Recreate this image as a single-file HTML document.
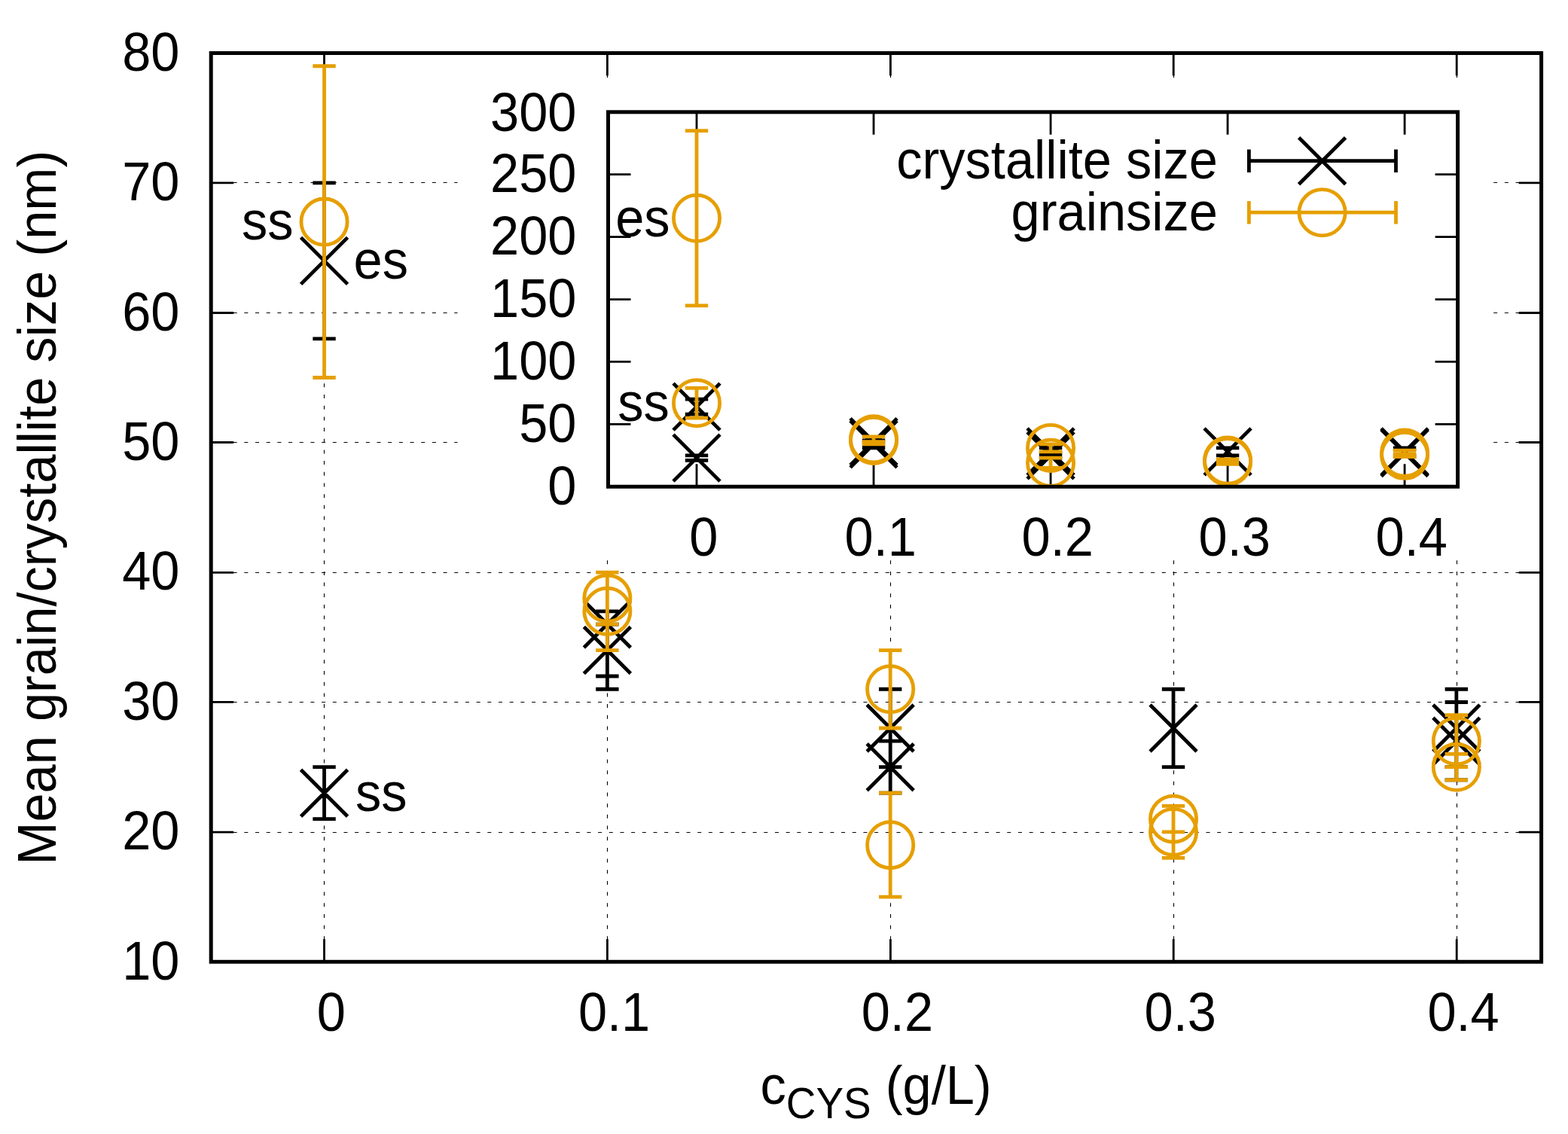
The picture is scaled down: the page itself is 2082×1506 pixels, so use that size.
<!DOCTYPE html>
<html><head><meta charset="utf-8"><title>Mean grain/crystallite size vs c_CYS</title>
<style>html,body{margin:0;padding:0;background:#fff;}svg{display:block;}text{font-family:"Liberation Sans",Arial,Helvetica,sans-serif;font-size:70px;fill:#000;}</style>
</head><body>
<svg width="2082" height="1506" viewBox="0 0 2082 1506">
<rect width="2082" height="1506" fill="#fff"/>
<path d="M280.3 242.5H2046.6M280.3 415.5H2046.6M280.3 587.5H2046.6M280.3 760.5H2046.6M280.3 932.5H2046.6M280.3 1105.5H2046.6" stroke="#000" stroke-width="1.1" stroke-dasharray="5.0 9.68" fill="none"/>
<path d="M430.5 1277.7V70.5M806.5 1277.7V70.5M1182.5 1277.7V70.5M1558.5 1277.7V70.5M1934.5 1277.7V70.5" stroke="#000" stroke-width="1.1" stroke-dasharray="5.0 9.68" fill="none"/>
<path d="M280.2 242.8h30M2046.6 242.8h-30M280.2 415.5h30M2046.6 415.5h-30M280.2 587.5h30M2046.6 587.5h-30M280.2 760.3h30M2046.6 760.3h-30M280.2 932.4h30M2046.6 932.4h-30M280.2 1105.1h30M2046.6 1105.1h-30M430.5 1277.3v-30M430.5 70.5v30M806.4 1277.3v-30M806.4 70.5v30M1182.4 1277.3v-30M1182.4 70.5v30M1558.2 1277.3v-30M1558.2 70.5v30M1934.2 1277.3v-30M1934.2 70.5v30" stroke="#000" stroke-width="2.8" fill="none"/>
<path d="M430.53 449.78V242.9M415.33 449.78H445.73M415.33 242.9H445.73M399.53 315.34L461.53 377.34M399.53 377.34L461.53 315.34M430.53 1087.66V1018.7M415.33 1087.66H445.73M415.33 1018.7H445.73M399.53 1022.18L461.53 1084.18M399.53 1084.18L461.53 1022.18M806.36 898.02V811.82M791.16 898.02H821.56M791.16 811.82H821.56M775.36 798.06L837.36 860.06M775.36 860.06L837.36 798.06M806.36 915.26V829.06M791.16 915.26H821.56M791.16 829.06H821.56M775.36 832.54L837.36 894.54M775.36 894.54L837.36 832.54M1182.19 1018.7V915.26M1166.99 1018.7H1197.39M1166.99 915.26H1197.39M1151.19 935.98L1213.19 997.98M1151.19 997.98L1213.19 935.98M1182.19 1053.18V984.22M1166.99 1053.18H1197.39M1166.99 984.22H1197.39M1151.19 987.7L1213.19 1049.7M1151.19 1049.7L1213.19 987.7M1558.02 1018.7V915.26M1542.82 1018.7H1573.22M1542.82 915.26H1573.22M1527.02 935.98L1589.02 997.98M1527.02 997.98L1589.02 935.98M1933.85 1018.7V915.26M1918.65 1018.7H1949.05M1918.65 915.26H1949.05M1902.85 935.98L1964.85 997.98M1902.85 997.98L1964.85 935.98M1933.85 1035.94V932.5M1918.65 1035.94H1949.05M1918.65 932.5H1949.05M1902.85 953.22L1964.85 1015.22M1902.85 1015.22L1964.85 953.22" stroke="#000" stroke-width="4.8" fill="none"/>
<path d="M430.53 501.5V87.74M415.33 501.5H445.73M415.33 87.74H445.73M806.36 829.06V760.1M791.16 829.06H821.56M791.16 760.1H821.56M806.36 863.54V760.1M791.16 863.54H821.56M791.16 760.1H821.56M1182.19 966.98V863.54M1166.99 966.98H1197.39M1166.99 863.54H1197.39M1182.19 1191.1V1053.18M1166.99 1191.1H1197.39M1166.99 1053.18H1197.39M1558.02 1104.9V1070.42M1542.82 1104.9H1573.22M1542.82 1070.42H1573.22M1558.02 1139.38V1070.42M1542.82 1139.38H1573.22M1542.82 1070.42H1573.22M1933.85 1018.7V949.74M1918.65 1018.7H1949.05M1918.65 949.74H1949.05M1933.85 1035.94V1001.46M1918.65 1035.94H1949.05M1918.65 1001.46H1949.05" stroke="#E69F00" stroke-width="4.8" fill="none"/>
<g stroke="#E69F00" stroke-width="4.8" fill="none"><circle cx="430.53" cy="294.62" r="30.6"/><circle cx="806.36" cy="794.58" r="30.6"/><circle cx="806.36" cy="811.82" r="30.6"/><circle cx="1182.19" cy="915.26" r="30.6"/><circle cx="1182.19" cy="1122.14" r="30.6"/><circle cx="1558.02" cy="1087.66" r="30.6"/><circle cx="1558.02" cy="1104.9" r="30.6"/><circle cx="1933.85" cy="984.22" r="30.6"/><circle cx="1933.85" cy="1018.7" r="30.6"/></g>
<rect x="280.2" y="70.5" width="1766.4" height="1206.8" stroke="#000" stroke-width="5.0" fill="none"/>
<text transform="translate(238.5 1300.5) scale(0.98 1.02)" text-anchor="end">10</text>
<text transform="translate(238.5 1128.1) scale(0.98 1.02)" text-anchor="end">20</text>
<text transform="translate(238.5 955.7) scale(0.98 1.02)" text-anchor="end">30</text>
<text transform="translate(238.5 783.3) scale(0.98 1.02)" text-anchor="end">40</text>
<text transform="translate(238.5 610.9) scale(0.98 1.02)" text-anchor="end">50</text>
<text transform="translate(238.5 438.5) scale(0.98 1.02)" text-anchor="end">60</text>
<text transform="translate(238.5 266.1) scale(0.98 1.02)" text-anchor="end">70</text>
<text transform="translate(238.5 93.7) scale(0.98 1.02)" text-anchor="end">80</text>
<text transform="translate(439.73 1369.3) scale(0.98 1.02)" text-anchor="middle">0</text>
<text transform="translate(815.56 1369.3) scale(0.98 1.02)" text-anchor="middle">0.1</text>
<text transform="translate(1191.39 1369.3) scale(0.98 1.02)" text-anchor="middle">0.2</text>
<text transform="translate(1567.22 1369.3) scale(0.98 1.02)" text-anchor="middle">0.3</text>
<text transform="translate(1943.05 1369.3) scale(0.98 1.02)" text-anchor="middle">0.4</text>
<text transform="translate(74 674.2) rotate(-90) scale(0.98 1.02)" text-anchor="middle">Mean grain/crystallite size (nm)</text>
<text transform="translate(1009.5 1466) scale(0.98 1.02)">c<tspan font-size="56" dy="18.6">CYS</tspan><tspan dy="-18.6"> (g/L)</tspan></text>
<text transform="translate(321 317.5) scale(0.98 1.02)">ss</text>
<text transform="translate(469.5 369.5) scale(0.98 1.02)">es</text>
<text transform="translate(472 1076.5) scale(0.98 1.02)">ss</text>
<rect x="607.5" y="108" width="1370.5" height="632" fill="#fff"/>
<path d="M807.5 563.38h30M1935.6 563.38h-30M807.5 480.47h30M1935.6 480.47h-30M807.5 397.55h30M1935.6 397.55h-30M807.5 314.63h30M1935.6 314.63h-30M807.5 231.72h30M1935.6 231.72h-30M925.01 646.3v-30M925.01 148.8v30M1160.03 646.3v-30M1160.03 148.8v30M1395.05 646.3v-30M1395.05 148.8v30M1630.07 646.3v-30M1630.07 148.8v30M1865.09 646.3v-30M1865.09 148.8v30" stroke="#000" stroke-width="2.8" fill="none"/>
<path d="M925.01 550.12V530.22M909.81 550.12H940.21M909.81 530.22H940.21M894.01 509.17L956.01 571.17M894.01 571.17L956.01 509.17M925.01 611.47V604.84M909.81 611.47H940.21M909.81 604.84H940.21M894.01 577.16L956.01 639.16M894.01 639.16L956.01 577.16M1160.03 593.23V584.94M1144.83 593.23H1175.23M1144.83 584.94H1175.23M1129.03 555.6L1191.03 617.6M1129.03 617.6L1191.03 555.6M1160.03 594.89V586.6M1144.83 594.89H1175.23M1144.83 586.6H1175.23M1129.03 558.92L1191.03 620.92M1129.03 620.92L1191.03 558.92M1395.05 604.84V594.89M1379.85 604.84H1410.25M1379.85 594.89H1410.25M1364.05 568.87L1426.05 630.87M1364.05 630.87L1426.05 568.87M1395.05 608.16V601.52M1379.85 608.16H1410.25M1379.85 601.52H1410.25M1364.05 573.84L1426.05 635.84M1364.05 635.84L1426.05 573.84M1630.07 604.84V594.89M1614.87 604.84H1645.27M1614.87 594.89H1645.27M1599.07 568.87L1661.07 630.87M1599.07 630.87L1661.07 568.87M1865.09 604.84V594.89M1849.89 604.84H1880.29M1849.89 594.89H1880.29M1834.09 568.87L1896.09 630.87M1834.09 630.87L1896.09 568.87M1865.09 606.5V596.55M1849.89 606.5H1880.29M1849.89 596.55H1880.29M1834.09 570.52L1896.09 632.52M1834.09 632.52L1896.09 570.52" stroke="#000" stroke-width="4.8" fill="none"/>
<path d="M925.01 555.09V515.29M909.81 555.09H940.21M909.81 515.29H940.21M925.01 405.84V173.68M909.81 405.84H940.21M909.81 173.68H940.21M1160.03 586.6V579.97M1144.83 586.6H1175.23M1144.83 579.97H1175.23M1160.03 589.92V579.97M1144.83 589.92H1175.23M1144.83 579.97H1175.23M1395.05 599.87V589.92M1379.85 599.87H1410.25M1379.85 589.92H1410.25M1395.05 621.42V608.16M1379.85 621.42H1410.25M1379.85 608.16H1410.25M1630.07 613.13V609.82M1614.87 613.13H1645.27M1614.87 609.82H1645.27M1630.07 616.45V609.82M1614.87 616.45H1645.27M1614.87 609.82H1645.27M1865.09 604.84V598.21M1849.89 604.84H1880.29M1849.89 598.21H1880.29M1865.09 606.5V603.18M1849.89 606.5H1880.29M1849.89 603.18H1880.29" stroke="#E69F00" stroke-width="4.8" fill="none"/>
<g stroke="#E69F00" stroke-width="4.8" fill="none"><circle cx="925.01" cy="535.19" r="30.6"/><circle cx="925.01" cy="289.76" r="30.6"/><circle cx="1160.03" cy="583.28" r="30.6"/><circle cx="1160.03" cy="584.94" r="30.6"/><circle cx="1395.05" cy="594.89" r="30.6"/><circle cx="1395.05" cy="614.79" r="30.6"/><circle cx="1630.07" cy="611.47" r="30.6"/><circle cx="1630.07" cy="613.13" r="30.6"/><circle cx="1865.09" cy="601.52" r="30.6"/><circle cx="1865.09" cy="604.84" r="30.6"/></g>
<rect x="807.5" y="148.8" width="1128.1" height="497.5" stroke="#000" stroke-width="5.0" fill="none"/>
<text transform="translate(765.5 669.5) scale(0.98 1.02)" text-anchor="end">0</text>
<text transform="translate(765.5 586.58) scale(0.98 1.02)" text-anchor="end">50</text>
<text transform="translate(765.5 503.67) scale(0.98 1.02)" text-anchor="end">100</text>
<text transform="translate(765.5 420.75) scale(0.98 1.02)" text-anchor="end">150</text>
<text transform="translate(765.5 337.83) scale(0.98 1.02)" text-anchor="end">200</text>
<text transform="translate(765.5 254.92) scale(0.98 1.02)" text-anchor="end">250</text>
<text transform="translate(765.5 173.5) scale(0.98 1.02)" text-anchor="end">300</text>
<text transform="translate(934.21 738.3) scale(0.98 1.02)" text-anchor="middle">0</text>
<text transform="translate(1169.23 738.3) scale(0.98 1.02)" text-anchor="middle">0.1</text>
<text transform="translate(1404.25 738.3) scale(0.98 1.02)" text-anchor="middle">0.2</text>
<text transform="translate(1639.27 738.3) scale(0.98 1.02)" text-anchor="middle">0.3</text>
<text transform="translate(1874.29 738.3) scale(0.98 1.02)" text-anchor="middle">0.4</text>
<text transform="translate(817.2 313.7) scale(0.98 1.02)">es</text>
<text transform="translate(820.2 558.5) scale(0.98 1.02)">ss</text>
<text transform="translate(1617 237.2) scale(0.98 1.02)" text-anchor="end">crystallite size</text>
<text transform="translate(1617 305.7) scale(0.98 1.02)" text-anchor="end">grainsize</text>
<path d="M1658.4 213.7H1853.5M1658.4 198.5v30.4M1853.5 198.5v30.4M1724.6 182.7L1786.6 244.7M1724.6 244.7L1786.6 182.7" stroke="#000" stroke-width="4.8" fill="none"/>
<path d="M1658.4 282.2H1853.5M1658.4 267v30.4M1853.5 267v30.4" stroke="#E69F00" stroke-width="4.8" fill="none"/>
<circle cx="1755.6" cy="282.2" r="30.6" stroke="#E69F00" stroke-width="4.8" fill="none"/>
</svg>
</body></html>
